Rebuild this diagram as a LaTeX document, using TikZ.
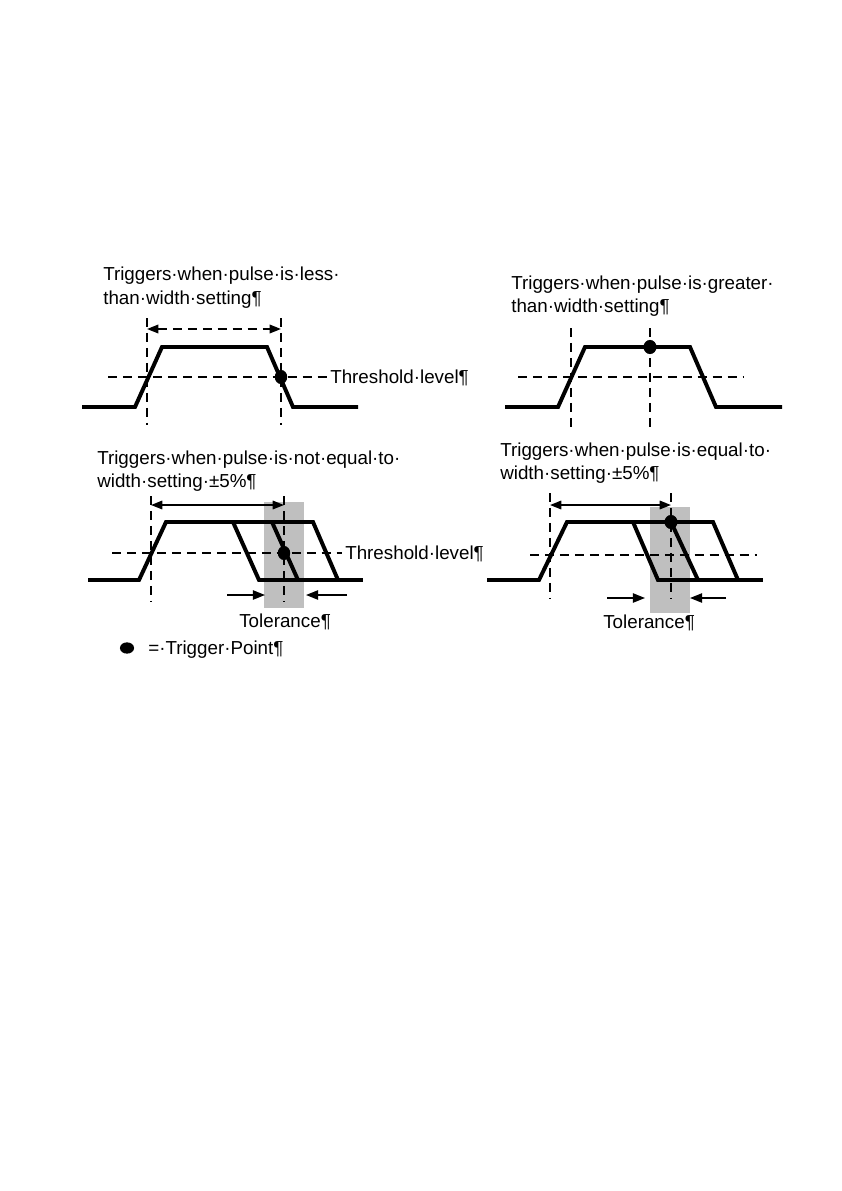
\documentclass[tikz,border=0pt]{standalone}
\usepackage{fontspec}
\setmainfont{Liberation Sans}
\usetikzlibrary{arrows.meta}
\begin{document}
\begin{tikzpicture}[x=0.707819pt,y=-0.707819pt,
  pulse/.style={line width=2.8pt},
  guide/.style={line width=1.3pt, dash pattern=on 6.4pt off 4.2pt},
  dimarrow/.style={line width=1.2pt, {Triangle[length=8pt,width=6pt]}-{Triangle[length=8pt,width=6pt]}},
  tolarrow/.style={line width=1.2pt, -{Triangle[length=8.5pt,width=6.5pt]}},
  tolband/.style={fill=black!25},
  lbl/.style={anchor=base west, inner sep=0pt, font=\fontsize{13.3pt}{16pt}\selectfont},
  trig/.style={fill=black}
]
\path[use as bounding box, fill=white] (0,0) rectangle (841,1191);

% ---------------- top left: less than ----------------
\node[lbl] (tl1) at (103,280) {Triggers·when·pulse·is·less·};
\node[lbl] (tl2) at (103,304) {than·width·setting¶};
\coordinate (tlA1) at (147,318); \coordinate (tlA2) at (147,425);
\coordinate (tlB1) at (281,318); \coordinate (tlB2) at (281,425);
\draw[guide] (tlA1) -- (tlA2);
\draw[guide] (tlB1) -- (tlB2);
\draw[guide, {Triangle[length=8pt,width=6pt]}-{Triangle[length=8pt,width=6pt]}] (147,329) -- (281,329);
\draw[guide] (108,377) -- (328,377);
\draw[pulse] (82,407) -- (135,407) -- (162,347) -- (267,347) -- (293,407) -- (358,407);
\fill[trig] (281,377) ellipse [x radius=4.4pt, y radius=5pt];
\node[lbl] (tlth) at (330,383) {Threshold·level¶};

% ---------------- top right: greater than ----------------
\node[lbl] (tr1) at (511,289) {Triggers·when·pulse·is·greater·};
\node[lbl] (tr2) at (511,312) {than·width·setting¶};
\draw[guide] (571,328) -- (571,427);
\draw[guide] (650,328) -- (650,427);
\draw[guide] (518,377) -- (743,377);
\draw[pulse] (505,407) -- (558,407) -- (585,347) -- (690,347) -- (716,407) -- (782,407);
\fill[trig] (650,347) ellipse [x radius=4.6pt, y radius=5pt];

% ---------------- bottom left: not equal ----------------
\node[lbl] (bl1) at (97,464) {Triggers·when·pulse·is·not·equal·to·};
\node[lbl] (bl2) at (97,487) {width·setting·±5\%¶};
\fill[tolband] (264,502) rectangle (304,608);
\draw[guide] (151,496) -- (151,602);
\draw[guide] (284,496) -- (284,602);
\draw[dimarrow] (151,505) -- (284,505);
\draw[guide] (112,553) -- (342,553);
\draw[pulse] (88,580) -- (139,580) -- (166,522) -- (313,522) -- (338,580) -- (259,580) -- (233,522);
\draw[pulse] (272,522) -- (298,580);
\draw[pulse] (338,580) -- (363,580);
\fill[trig] (284,553) ellipse [x radius=4.4pt, y radius=5pt];
\node[lbl] (blth) at (345,559) {Threshold·level¶};
\draw[tolarrow] (227,595) -- (265,595);
\draw[tolarrow] (347,595) -- (306,595);
\node[lbl] (bltol) at (239,627) {Tolerance¶};
% legend
\fill[trig] (127,648) ellipse [x radius=5pt, y radius=4pt];
\node[lbl] (leg) at (148,654) {=·Trigger·Point¶};

% ---------------- bottom right: equal ----------------
\node[lbl] (br1) at (500,456) {Triggers·when·pulse·is·equal·to·};
\node[lbl] (br2) at (500,479) {width·setting·±5\%¶};
\fill[tolband] (650,507) rectangle (690,613);
\draw[guide] (550,493) -- (550,599);
\draw[guide] (671,493) -- (671,599);
\draw[dimarrow] (550,505) -- (671,505);
\draw[guide] (530,555) -- (757,555);
\draw[pulse] (487,580) -- (539,580) -- (567,522) -- (713,522) -- (738,580) -- (658,580) -- (633,522);
\draw[pulse] (671,522) -- (698,580);
\draw[pulse] (738,580) -- (763,580);
\fill[trig] (671,522) ellipse [x radius=4.6pt, y radius=5pt];
\draw[tolarrow] (607,598) -- (645,598);
\draw[tolarrow] (726,598) -- (690,598);
\node[lbl] (brtol) at (603,628) {Tolerance¶};
\end{tikzpicture}
\end{document}
